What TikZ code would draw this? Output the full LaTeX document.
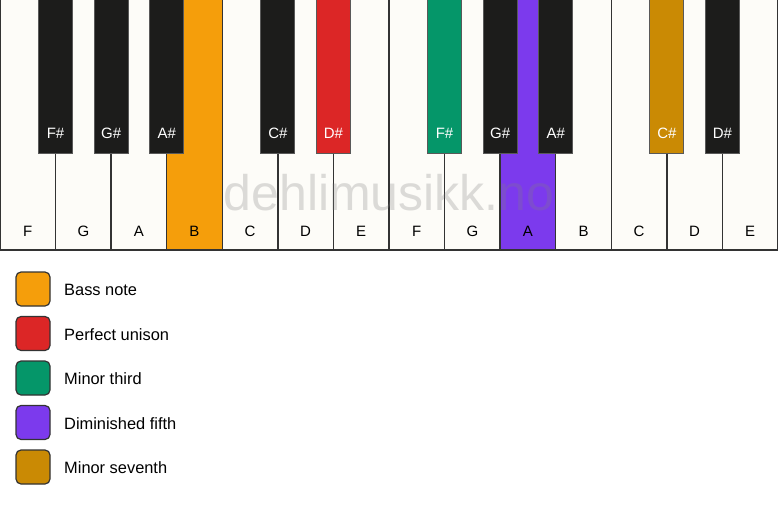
\documentclass[tikz,border=0pt]{standalone}
\usepackage{fontspec}
\setmainfont{Liberation Sans}
\definecolor{keywhite}{HTML}{FDFCF8}
\definecolor{keyblack}{HTML}{1C1C1B}
\definecolor{keyline}{HTML}{333333}
\definecolor{bassnote}{HTML}{F59E0B}
\definecolor{unison}{HTML}{DC2626}
\definecolor{minthird}{HTML}{059669}
\definecolor{dimfifth}{HTML}{7C3AED}
\definecolor{minseventh}{HTML}{CA8A04}
\tikzset{
  whitekey/.style={draw=keyline, line width=1.4pt},
  blackkey/.style={draw=black!65, line width=0.8pt},
  whitelabel/.style={font=\fontsize{15}{18}\selectfont, text=black},
  blacklabel/.style={font=\fontsize{15}{18}\selectfont, text=white},
  swatch/.style={draw=keyline, line width=1.2pt, rounded corners=5pt},
  legendtext/.style={font=\fontsize{16.4}{19}\selectfont, anchor=west, inner sep=0pt}
}
\begin{document}
\begin{tikzpicture}[x=1pt,y=-1pt]
		\def\w{55.571}%white key width
		\def\hw{250}%white key height
		\def\bw{34}%black key width
		\def\hb{153}%black key height
		\useasboundingbox (0,0) rectangle (778,506);
		\fill[white] (0,0) rectangle (778,506);
		%white keys
		\foreach \name/\col [count=\i from 0] in {F/keywhite,G/keywhite,A/keywhite,B/bassnote,C/keywhite,D/keywhite,E/keywhite,F/keywhite,G/keywhite,A/dimfifth,B/keywhite,C/keywhite,D/keywhite,E/keywhite}{
			\pgfmathsetmacro{\xl}{\i*\w}
			\pgfmathsetmacro{\xr}{(\i+1)*\w}
			\draw[whitekey, fill=\col] (\xl,-2) rectangle (\xr,\hw);
			\path ({(\i+0.5)*\w},231) node[whitelabel] (wk\i) {\name};
		}
		%watermark
		\node[font=\fontsize{50}{60}\selectfont, text=gray, text opacity=0.27] (mark) at (389,193) {dehlimusikk.no};
		%black keys
		\foreach \name/\col/\k in {F\#/keyblack/1,G\#/keyblack/2,A\#/keyblack/3,C\#/keyblack/5,D\#/unison/6,F\#/minthird/8,G\#/keyblack/9,A\#/keyblack/10,C\#/minseventh/12,D\#/keyblack/13}{
			\pgfmathsetmacro{\xl}{\k*\w-\bw/2}
			\pgfmathsetmacro{\xr}{\k*\w+\bw/2}
			\draw[blackkey, fill=\col] (\xl,-1) rectangle (\xr,\hb);
			\path (\k*\w,133) node[blacklabel] (bk\k) {\name};
		}
		%legend
		\foreach \txt/\col [count=\i from 0] in {Bass note/bassnote,Perfect unison/unison,Minor third/minthird,Diminished fifth/dimfifth,Minor seventh/minseventh}{
			\pgfmathsetmacro{\yc}{289+\i*44.5}
			\draw[swatch, fill=\col] (16,\yc-17) rectangle (50,\yc+17);
			\node[legendtext] (lg\i) at (64,\yc+1) {\txt};
		}
\end{tikzpicture}
\end{document}
